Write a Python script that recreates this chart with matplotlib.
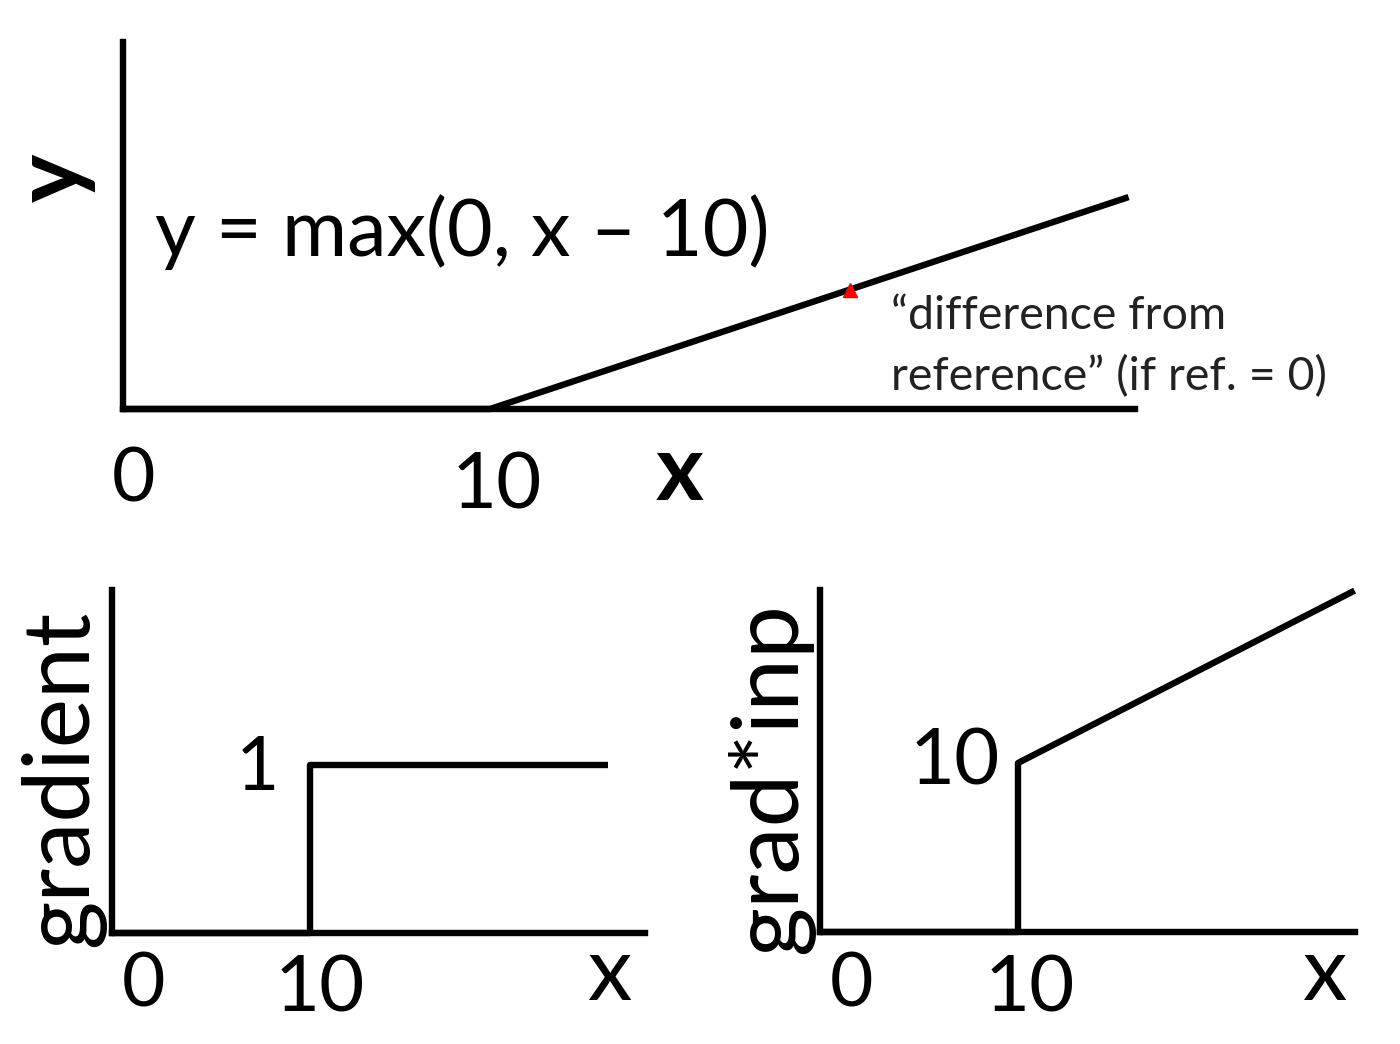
import matplotlib
matplotlib.use("Agg")
import matplotlib.pyplot as plt

plt.rcParams['font.family'] = ['Lato', 'DejaVu Sans']

W, H = 1400, 1044

# data
top_x = [0, 10, 27.4]
top_y = [0, 0, 17.4]
marker_x = [19.8]
marker_y = [9.8]
grad_x = [0, 10, 10, 25.05]
grad_y = [0, 0, 1, 1]
gi_x = [0, 10, 10, 27.0]
gi_y = [0, 0, 10, 20.2]

fig = plt.figure(figsize=(W / 100, H / 100), dpi=100)

def ax_px(x0, y0, x1, y1):
    return fig.add_axes([x0 / W, 1 - y1 / H, (x1 - x0) / W, (y1 - y0) / H])

def fx(x, y):
    return x / W, 1 - y / H

LW = 4.6

def style(ax):
    for s in ['top', 'right']:
        ax.spines[s].set_visible(False)
    for s in ['left', 'bottom']:
        ax.spines[s].set_linewidth(LW)
        ax.spines[s].set_color('black')
    ax.set_xticks([])
    ax.set_yticks([])
    ax.patch.set_alpha(0)

# top axes
ax1 = ax_px(123, 42, 1135, 409)
style(ax1)
ax1.plot(top_x, top_y, color='black', lw=LW, solid_capstyle='butt', clip_on=False)
ax1.plot(marker_x, marker_y, marker='^', color='red', ms=10, ls='none', clip_on=False)
ax1.set_xlim(0, (1135 - 123) / 36.7)
ax1.set_ylim(0, (409 - 42) / 12.18)

fig.text(*fx(155, 232), 'y = max(0, x \u2013 10)', fontsize=57, ha='left', va='center')
fig.text(*fx(891, 316), '\u201cdifference from', fontsize=33.5, ha='left', va='center', color='#222222')
fig.text(*fx(891, 377), 'reference\u201d (if ref. = 0)', fontsize=33.5, ha='left', va='center', color='#222222')
fig.text(*fx(54, 178), 'y', fontsize=66, fontweight='bold', rotation=90, ha='center', va='center')
fig.text(*fx(133, 480), '0', fontsize=54, ha='center', va='center')
fig.text(*fx(497, 487), '10', fontsize=56, ha='center', va='center')
fig.text(*fx(680, 474), 'x', fontsize=66, fontweight='bold', ha='center', va='center')

# bottom left
ax2 = ax_px(112, 590, 645, 933)
style(ax2)
ax2.plot(grad_x, grad_y, color='black', lw=LW, solid_capstyle='butt', clip_on=False)
ax2.set_xlim(0, (645 - 112) / 19.8)
ax2.set_ylim(0, (933 - 590) / 168.0)
fig.text(*fx(62, 778), 'gradient', fontsize=67, rotation=90, ha='center', va='center')
fig.text(*fx(258, 768), '1', fontsize=54, ha='center', va='center')
fig.text(*fx(143, 985), '0', fontsize=54, ha='center', va='center')
fig.text(*fx(320, 990), '10', fontsize=56, ha='center', va='center')
fig.text(*fx(610, 975), 'x', fontsize=64, ha='center', va='center')

# bottom right
ax3 = ax_px(820, 590, 1355, 932)
style(ax3)
ax3.plot(gi_x, gi_y, color='black', lw=LW, solid_capstyle='butt', clip_on=False)
ax3.set_xlim(0, (1355 - 820) / 19.8)
ax3.set_ylim(0, (932 - 590) / 16.9)
fig.text(*fx(770, 778), 'grad*inp', fontsize=68, rotation=90, ha='center', va='center')
fig.text(*fx(955, 763), '10', fontsize=56, ha='center', va='center')
fig.text(*fx(852, 985), '0', fontsize=54, ha='center', va='center')
fig.text(*fx(1030, 990), '10', fontsize=56, ha='center', va='center')
fig.text(*fx(1325, 975), 'x', fontsize=64, ha='center', va='center')

fig.savefig('out.png', dpi=100, facecolor='white')
